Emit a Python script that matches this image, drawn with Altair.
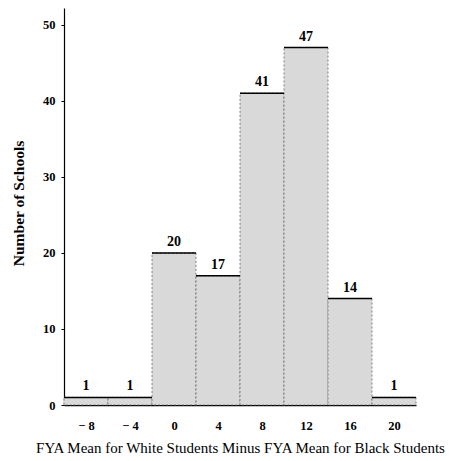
import altair as alt
import pandas as pd

centers = [-8, -4, 0, 4, 8, 12, 16, 20]
counts = [1, 1, 20, 17, 41, 47, 14, 1]
x_ticks = [-8, -4, 0, 4, 8, 12, 16, 20]
y_ticks = [0, 10, 20, 30, 40, 50]

df = pd.DataFrame({"center": centers, "count": counts})

FONT = "Liberation Serif"
xs = alt.Scale(domain=[-10, 22], nice=False, zero=False)
ys = alt.Scale(domain=[0, 52.2], nice=False)

base = alt.Chart(df).transform_calculate(
    lo="datum.center - 2", hi="datum.center + 2"
)

bars = base.mark_bar(
    fill="#d9d9d9", stroke="#666666", strokeWidth=0.8, strokeDash=[2, 2]
).encode(
    x=alt.X("lo:Q", scale=xs, axis=alt.Axis(
        values=x_ticks,
        labelExpr="datum.value < 0 ? '\u2212 ' + abs(datum.value) : datum.label",
        title="FYA Mean for White Students Minus FYA Mean for Black Students",
        titleFont=FONT, titleFontSize=15, titleFontWeight="normal",
        titleX=176, titleY=42, titleBaseline="middle", titleAnchor="middle",
        labelFont=FONT, labelFontSize=12.5, labelFontWeight="bold",
        labelPadding=14, ticks=False, grid=False,
        domainColor="black", domainWidth=1.5, labelColor="black", titleColor="black",
    )),
    x2="hi:Q",
    y=alt.Y("count:Q", scale=ys, axis=alt.Axis(
        values=y_ticks, title="Number of Schools",
        titleFont=FONT, titleFontSize=15.5, titleFontWeight="bold",
        titleX=-46, titleY=195, titleBaseline="middle", titleAngle=-90,
        labelFont=FONT, labelFontSize=12.5, labelFontWeight="bold",
        tickSize=3, tickColor="black", labelPadding=6, grid=False,
        domainColor="black", domainWidth=1.2, labelColor="black", titleColor="black",
    )),
    y2=alt.datum(0),
)

tops = base.mark_rule(color="black", strokeWidth=1.5).encode(
    x=alt.X("lo:Q", scale=xs), x2="hi:Q",
    y=alt.Y("count:Q", scale=ys)
)

labels = base.mark_text(
    font=FONT, fontSize=14, fontWeight="bold", baseline="alphabetic", dy=-7, color="black"
).encode(
    x=alt.X("center:Q", scale=xs),
    y=alt.Y("count:Q", scale=ys), text="count:Q"
)

chart = alt.layer(bars, tops, labels).properties(
    width=352, height=397,
    background="white",
    autosize=alt.AutoSizeParams(type="none"),
    padding={"left": 56, "top": 0, "right": 39, "bottom": 53},
).configure(
    view=alt.ViewConfig(stroke="transparent", strokeWidth=0),
    style={"cell": {"stroke": "transparent", "strokeWidth": 0}},
).configure_axis(grid=False)

chart.save("out.html", embed_options={"renderer": "svg", "actions": False})
